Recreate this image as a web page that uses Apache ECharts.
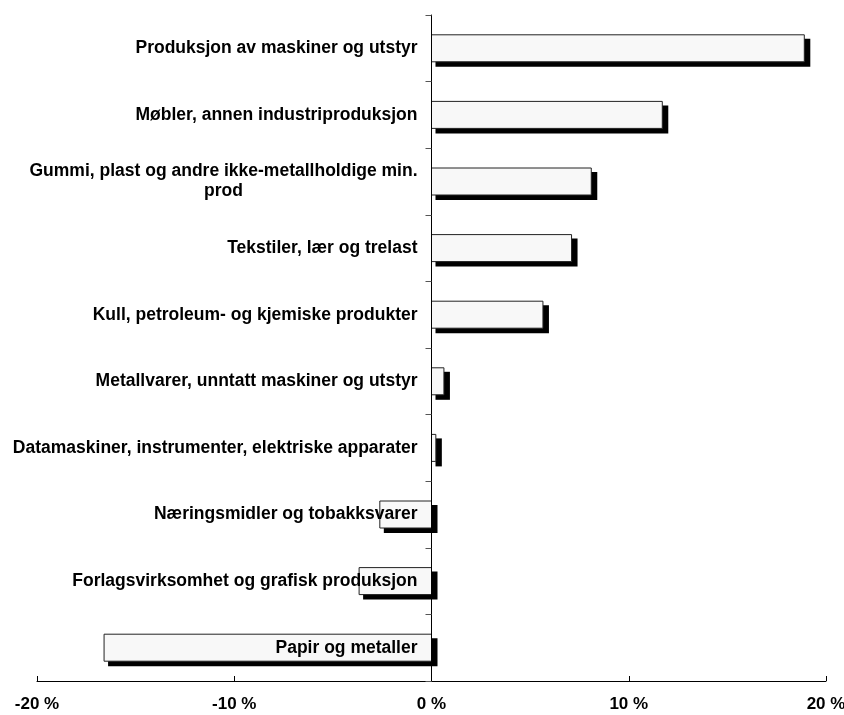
<!DOCTYPE html>
<html>
<head>
<meta charset="utf-8">
<script src="https://cdn.jsdelivr.net/npm/echarts@6/dist/echarts.min.js"></script>
<style>
html,body{margin:0;padding:0;background:#fff;}
#c{width:844px;height:715px;}
</style>
</head>
<body>
<div id="c"></div>
<script>
var categories = [
  "Produksjon av maskiner og utstyr",
  "Møbler, annen industriproduksjon",
  "Gummi, plast og andre ikke-metallholdige min.\nprod",
  "Tekstiler, lær og trelast",
  "Kull, petroleum- og kjemiske produkter",
  "Metallvarer, unntatt maskiner og utstyr",
  "Datamaskiner, instrumenter, elektriske apparater",
  "Næringsmidler og tobakksvarer",
  "Forlagsvirksomhet og grafisk produksjon",
  "Papir og metaller"
];
var values = [18.9, 11.7, 8.1, 7.1, 5.65, 0.63, 0.22, -2.62, -3.67, -16.6];
var xTicks = [-20, -10, 0, 10, 20];

var FONT = "Liberation Sans";
var FS = 17.5;
var ctx = document.createElement('canvas').getContext('2d');
ctx.font = 'bold ' + FS + 'px "' + FONT + '"';

var GRID_L = 37, GRID_R = 18;
var chartW = 844;
var zeroX = GRID_L + (chartW - GRID_L - GRID_R) * (0 - xTicks[0]) / (xTicks[xTicks.length - 1] - xTicks[0]);

var chart = echarts.init(document.getElementById('c'), null, {renderer: 'canvas'});

function renderBar(params, api) {
  var idx = api.value(0);
  var val = api.value(1);
  var p0 = api.coord([0, idx]);
  var p1 = api.coord([val, idx]);
  var h = 27;
  var x0 = Math.min(p0[0], p1[0]);
  var w = Math.abs(p1[0] - p0[0]);
  var y0 = p0[1] - h / 2;
  return {
    type: 'group',
    children: [
      {type: 'rect', shape: {x: x0 + 4, y: y0 + 4, width: w + 2, height: h + 1},
       style: {fill: '#000'}},
      {type: 'rect', shape: {x: x0, y: y0, width: w, height: h},
       style: {fill: '#f8f8f8', stroke: '#222', lineWidth: 1}}
    ]
  };
}

var seriesData = values.map(function (v, i) { return [i, v]; });

chart.setOption({
  backgroundColor: '#ffffff',
  animation: false,
  grid: {left: GRID_L, right: GRID_R, top: 15, bottom: 34, containLabel: false, outerBoundsMode: 'none'},
  xAxis: {
    type: 'value',
    min: xTicks[0], max: xTicks[xTicks.length - 1], interval: 10,
    axisLine: {show: true, onZero: false, lineStyle: {color: '#000', width: 1}},
    axisTick: {show: true, inside: true, length: 5, lineStyle: {color: '#000'}},
    splitLine: {show: false},
    axisLabel: {
      margin: 15, color: '#000', fontFamily: FONT, fontWeight: 'bold', fontSize: 17,
      formatter: function (v) { return v + ' %'; }
    }
  },
  yAxis: {
    type: 'category',
    data: categories,
    inverse: true,
    z: 10,
    offset: -(zeroX - GRID_L),
    axisLine: {show: true, onZero: false, lineStyle: {color: '#000', width: 1}},
    axisTick: {show: true, length: 6, lineStyle: {color: '#555'}},
    axisLabel: {
      margin: 14, color: '#000', fontFamily: FONT, fontWeight: 'bold', fontSize: FS,
      lineHeight: 20,
      formatter: function (v) {
        if (v.indexOf('\n') >= 0) {
          var parts = v.split('\n');
          return '{a|' + parts[0] + '}\n{b|' + parts[1] + '}';
        }
        return v;
      },
      rich: (function () {
        var parts = categories[2].split('\n');
        var w = Math.ceil(ctx.measureText(parts[0]).width);
        return {
          a: {fontFamily: FONT, fontWeight: 'bold', fontSize: FS, lineHeight: 20, color: '#000'},
          b: {fontFamily: FONT, fontWeight: 'bold', fontSize: FS, lineHeight: 20, color: '#000', width: w, align: 'center'}
        };
      })()
    }
  },
  series: [{
    type: 'custom',
    renderItem: renderBar,
    encode: {x: 1, y: 0},
    data: seriesData,
    z: 2
  }]
});
</script>
</body>
</html>
